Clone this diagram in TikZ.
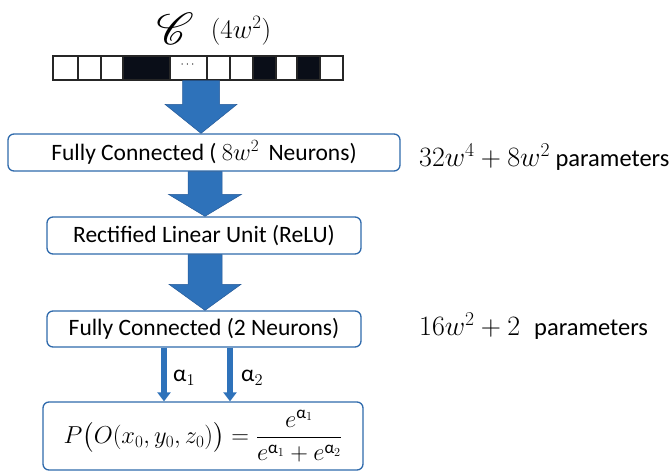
\RequirePackage{fix-cm}
\documentclass[tikz,border=0pt]{standalone}
\usepackage{amsmath}
\usepackage{graphicx}
\IfFileExists{mathrsfs.sty}{\usepackage{mathrsfs}}{\newcommand\mathscr{\mathcal}}
\usepackage{fontspec}
\setmainfont{Carlito}
\usetikzlibrary{arrows.meta,calc}

\definecolor{boxblue}{RGB}{47,106,172}
\definecolor{arrowblue}{RGB}{46,114,186}
\definecolor{arrowedge}{RGB}{38,90,152}
\definecolor{cellink}{RGB}{10,14,24}

\newcommand\bigmath{\fontsize{24.5}{28}\selectfont}
\newcommand\sidemath{\fontsize{28}{31}\selectfont}

\tikzset{
  layer/.style={draw=boxblue, line width=1.3pt, rounded corners=6pt, fill=white,
    inner sep=0pt, font=\fontsize{23.5}{28}\selectfont},
  blockarrow/.style={fill=arrowblue, draw=arrowedge, line width=0.5pt, line join=miter},
  thinarrow/.style={draw=arrowblue, line width=6pt,
    -{Triangle[width=13pt,length=9pt]}},
  plain/.style={inner sep=0pt, font=\fontsize{23.5}{28}\selectfont},
  sidenote/.style={inner sep=0pt, anchor=west, font=\fontsize{24.5}{30}\selectfont},
}

% block arrow from the bottom of #1 to the top of #2;
% #3 x offset, #4 shaft half width, #5 head half width, #6 head length
\newcommand\flowarrow[6]{%
  \path[blockarrow] let \p1=(#1.south), \p2=(#2.north) in
    (\x2#3pt-#4pt,\y1) -- (\x2#3pt-#4pt,\y2+#6pt) -- (\x2#3pt-#5pt,\y2+#6pt)
    -- (\x2#3pt,\y2) -- (\x2#3pt+#5pt,\y2+#6pt) -- (\x2#3pt+#4pt,\y2+#6pt)
    -- (\x2#3pt+#4pt,\y1) -- cycle;}

\begin{document}
\begin{tikzpicture}[x=1pt,y=-1pt]
\useasboundingbox (0,0) rectangle (671,474);

% heading
\node[plain] (cal) at (175,29) {\scalebox{1.8}{$\mathscr{C}$}};
\node[plain] (size) at (241,31) {\fontsize{27}{30}\selectfont$(4w^2)$};

% input vector
\fill[cellink] (123,56) rectangle (170,80);
\fill[cellink] (253,56) rectangle (276,80);
\fill[cellink] (297,56) rectangle (320,80);
\node[draw=black!85, line width=1.2pt, minimum width=290pt, minimum height=24pt,
      inner sep=0pt] (strip) at (198,68) {};
\foreach \xx in {78,101,123,170,207,230,253,276,297,320}
  \draw[black!85, line width=1.1pt] (\xx,56) -- (\xx,80);
\node[inner sep=0pt, font=\fontsize{12}{12}\selectfont] (dots) at (188.5,65) {$\cdots$};

% layers
\node[layer, minimum width=392pt, minimum height=37pt] (fc1) at (204,152.5)
  {Fully Connected ( {\bigmath$8w^2$}\, Neurons)};
\node[layer, minimum width=314pt, minimum height=37pt] (relu) at (204,235.5)
  {Rectified Linear Unit (ReLU)};
\node[layer, minimum width=314pt, minimum height=36pt] (fc2) at (204,329)
  {Fully Connected (2 Neurons)};
\node[layer, minimum width=320pt, minimum height=68pt, font=\bigmath] (out) at (203,436)
  {$P\bigl(O(x_0,y_0,z_0)\bigr)=\dfrac{e^{\text{α}_1}}{e^{\text{α}_1}+e^{\text{α}_2}}$};

% flow between stages
\flowarrow{strip}{fc1}{-3}{18.5}{36}{29}
\flowarrow{fc1}{relu}{+1}{17}{36.5}{22}
\flowarrow{relu}{fc2}{+1}{17}{36}{26}

% two output neurons
\coordinate (c1) at (164,0);
\coordinate (c2) at (230,0);
\draw[thinarrow] (fc2.south -| c1) -- (out.north -| c1);
\draw[thinarrow] (fc2.south -| c2) -- (out.north -| c2);
\node[plain, anchor=west] (a1) at (173,378) {α$_1$};
\node[plain, anchor=west] (a2) at (241,378) {α$_2$};

% parameter counts
\node[sidenote] (p1) at (419,157) {{\sidemath$32w^4+8w^2$} parameters};
\node[sidenote] (p2) at (419,326) {{\sidemath$16w^2+2$}\hspace{14pt}parameters};
\end{tikzpicture}
\end{document}
